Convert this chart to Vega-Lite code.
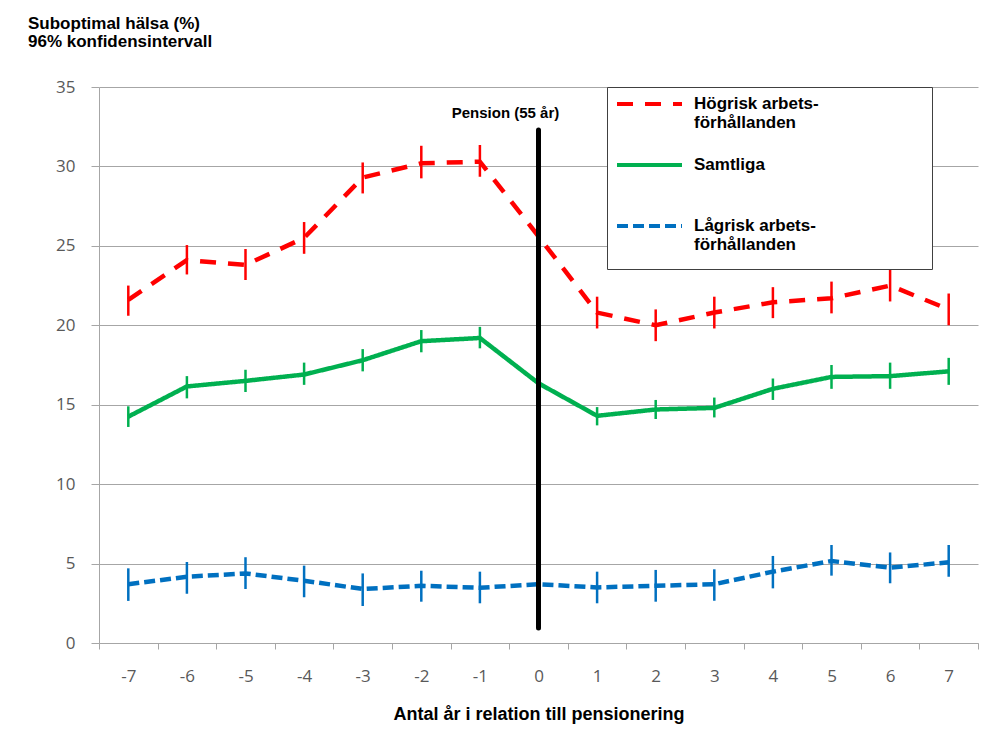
{
  "$schema": "https://vega.github.io/schema/vega-lite/v6.json",
  "width": 879,
  "height": 556,
  "autosize": {"type": "none"},
  "padding": {"left": 99, "top": 87, "right": 26, "bottom": 93},
  "background": "white",
  "config": {"view": {"stroke": null}, "font": "Liberation Sans"},
  "title": {
    "text": ["Suboptimal hälsa (%)", "96% konfidensintervall"],
    "anchor": "start",
    "frame": "group",
    "dx": -71,
    "fontSize": 17,
    "fontWeight": "bold",
    "font": "Liberation Sans",
    "color": "black",
    "lineHeight": 18,
    "offset": 27
  },
  "datasets": {
    "series": [
      {"serie": "Högrisk arbets-förhållanden", "year": -7, "v": 21.6, "lo": 20.6, "hi": 22.5},
      {"serie": "Högrisk arbets-förhållanden", "year": -6, "v": 24.1, "lo": 23.2, "hi": 25.05},
      {"serie": "Högrisk arbets-förhållanden", "year": -5, "v": 23.8, "lo": 22.85, "hi": 24.8},
      {"serie": "Högrisk arbets-förhållanden", "year": -4, "v": 25.5, "lo": 24.5, "hi": 26.5},
      {"serie": "Högrisk arbets-förhållanden", "year": -3, "v": 29.3, "lo": 28.3, "hi": 30.25},
      {"serie": "Högrisk arbets-förhållanden", "year": -2, "v": 30.2, "lo": 29.25, "hi": 31.3},
      {"serie": "Högrisk arbets-förhållanden", "year": -1, "v": 30.3, "lo": 29.35, "hi": 31.35},
      {"serie": "Högrisk arbets-förhållanden", "year": 0, "v": 25.6, "lo": null, "hi": null},
      {"serie": "Högrisk arbets-förhållanden", "year": 1, "v": 20.8, "lo": 19.8, "hi": 21.8},
      {"serie": "Högrisk arbets-förhållanden", "year": 2, "v": 20.0, "lo": 19.0, "hi": 21.0},
      {"serie": "Högrisk arbets-förhållanden", "year": 3, "v": 20.8, "lo": 19.8, "hi": 21.8},
      {"serie": "Högrisk arbets-förhållanden", "year": 4, "v": 21.45, "lo": 20.45, "hi": 22.4},
      {"serie": "Högrisk arbets-förhållanden", "year": 5, "v": 21.7, "lo": 20.75, "hi": 22.75},
      {"serie": "Högrisk arbets-förhållanden", "year": 6, "v": 22.5, "lo": 21.5, "hi": 23.6},
      {"serie": "Högrisk arbets-förhållanden", "year": 7, "v": 21.0, "lo": 20.0, "hi": 22.0},
      {"serie": "Samtliga", "year": -7, "v": 14.25, "lo": 13.6, "hi": 14.9},
      {"serie": "Samtliga", "year": -6, "v": 16.15, "lo": 15.4, "hi": 16.8},
      {"serie": "Samtliga", "year": -5, "v": 16.5, "lo": 15.8, "hi": 17.2},
      {"serie": "Samtliga", "year": -4, "v": 16.9, "lo": 16.25, "hi": 17.65},
      {"serie": "Samtliga", "year": -3, "v": 17.8, "lo": 17.1, "hi": 18.5},
      {"serie": "Samtliga", "year": -2, "v": 19.0, "lo": 18.3, "hi": 19.7},
      {"serie": "Samtliga", "year": -1, "v": 19.2, "lo": 18.55, "hi": 19.9},
      {"serie": "Samtliga", "year": 0, "v": 16.35, "lo": null, "hi": null},
      {"serie": "Samtliga", "year": 1, "v": 14.3, "lo": 13.7, "hi": 14.85},
      {"serie": "Samtliga", "year": 2, "v": 14.7, "lo": 14.1, "hi": 15.3},
      {"serie": "Samtliga", "year": 3, "v": 14.8, "lo": 14.2, "hi": 15.45},
      {"serie": "Samtliga", "year": 4, "v": 16.0, "lo": 15.3, "hi": 16.65},
      {"serie": "Samtliga", "year": 5, "v": 16.75, "lo": 16.0, "hi": 17.5},
      {"serie": "Samtliga", "year": 6, "v": 16.8, "lo": 16.0, "hi": 17.65},
      {"serie": "Samtliga", "year": 7, "v": 17.1, "lo": 16.25, "hi": 17.95},
      {"serie": "Lågrisk arbets-förhållanden", "year": -7, "v": 3.7, "lo": 2.65, "hi": 4.7},
      {"serie": "Lågrisk arbets-förhållanden", "year": -6, "v": 4.17, "lo": 3.1, "hi": 5.1},
      {"serie": "Lågrisk arbets-förhållanden", "year": -5, "v": 4.38, "lo": 3.4, "hi": 5.4},
      {"serie": "Lågrisk arbets-förhållanden", "year": -4, "v": 3.92, "lo": 2.88, "hi": 4.87},
      {"serie": "Lågrisk arbets-förhållanden", "year": -3, "v": 3.4, "lo": 2.33, "hi": 4.38},
      {"serie": "Lågrisk arbets-förhållanden", "year": -2, "v": 3.6, "lo": 2.6, "hi": 4.55},
      {"serie": "Lågrisk arbets-förhållanden", "year": -1, "v": 3.48, "lo": 2.5, "hi": 4.49},
      {"serie": "Lågrisk arbets-förhållanden", "year": 0, "v": 3.7, "lo": null, "hi": null},
      {"serie": "Lågrisk arbets-förhållanden", "year": 1, "v": 3.5, "lo": 2.5, "hi": 4.49},
      {"serie": "Lågrisk arbets-förhållanden", "year": 2, "v": 3.6, "lo": 2.6, "hi": 4.6},
      {"serie": "Lågrisk arbets-förhållanden", "year": 3, "v": 3.7, "lo": 2.66, "hi": 4.64},
      {"serie": "Lågrisk arbets-förhållanden", "year": 4, "v": 4.49, "lo": 3.44, "hi": 5.48},
      {"serie": "Lågrisk arbets-förhållanden", "year": 5, "v": 5.16, "lo": 4.24, "hi": 6.17},
      {"serie": "Lågrisk arbets-förhållanden", "year": 6, "v": 4.74, "lo": 3.76, "hi": 5.7},
      {"serie": "Lågrisk arbets-förhållanden", "year": 7, "v": 5.08, "lo": 4.17, "hi": 6.17}
    ],
    "pension": [
      {"year": 0, "label": "Pension (55 år)"}
    ]
  },
  "encoding": {
    "x": {
      "field": "year",
      "type": "ordinal",
      "bandPosition": 0.5,
      "scale": {"type": "band", "domain": [-7, -6, -5, -4, -3, -2, -1, 0, 1, 2, 3, 4, 5, 6, 7], "paddingInner": 0, "paddingOuter": 0},
      "axis": {
        "title": "Antal år i relation till pensionering",
        "titleFont": "Liberation Sans",
        "titleFontSize": 18,
        "titleFontWeight": "bold",
        "titleColor": "black",
        "titlePadding": 21,
        "labelAngle": 0,
        "labelFont": "Open Sans",
        "labelFontSize": 17,
        "labelColor": "#595959",
        "labelPadding": 19,
        "tickBand": "extent",
        "tickSize": 6,
        "tickColor": "#a6a6a6",
        "domainColor": "#a6a6a6",
        "grid": false
      }
    }
  },
  "layer": [
    {
      "data": {"name": "series"},
      "mark": {"type": "line", "strokeWidth": 4.5},
      "encoding": {
        "y": {
          "field": "v",
          "type": "quantitative",
          "scale": {"domain": [0, 35], "nice": false},
          "axis": {
            "title": null,
            "values": [0, 5, 10, 15, 20, 25, 30, 35],
            "grid": true,
            "gridColor": "#a6a6a6",
            "domainColor": "#a6a6a6",
            "tickColor": "#a6a6a6",
            "tickSize": 8,
            "labelPadding": 16,
            "labelFont": "Open Sans",
            "labelFontSize": 17,
            "labelColor": "#595959"
          }
        },
        "color": {
          "field": "serie",
          "type": "nominal",
          "scale": {
            "domain": ["Högrisk arbets-förhållanden", "Samtliga", "Lågrisk arbets-förhållanden"],
            "range": ["#ff0000", "#00b050", "#0070c0"]
          },
          "legend": {
            "title": " ",
            "titleOrient": "right",
            "titlePadding": 108,
            "titleFontSize": 17,
            "orient": "none",
            "legendX": 508,
            "legendY": 0,
            "padding": 5,
            "strokeColor": "#404040",
            "fillColor": "white",
            "symbolType": "stroke",
            "symbolSize": 4225,
            "symbolStrokeWidth": 4,
            "symbolOffset": 3,
            "labelOffset": 10,
            "labelFont": "Liberation Sans",
            "labelFontSize": 17,
            "labelFontWeight": "bold",
            "labelColor": "black",
            "labelLineHeight": 18,
            "labelLimit": 400,
            "clipHeight": 50,
            "rowPadding": 11,
            "labelExpr": "indexof(datum.label, '-') > 0 ? [slice(datum.label, 0, indexof(datum.label, '-') + 1), slice(datum.label, indexof(datum.label, '-') + 1)] : [datum.label, '']",
            "encode": {
              "symbols": {"update": {"y": {"value": 12}}},
              "labels": {"update": {"y": {"value": 12}}}
            }
          }
        },
        "strokeDash": {
          "field": "serie",
          "type": "nominal",
          "scale": {
            "domain": ["Högrisk arbets-förhållanden", "Samtliga", "Lågrisk arbets-förhållanden"],
            "range": [[16, 12], [1, 0], [11, 5]]
          },
          "legend": {
            "title": " ",
            "titleOrient": "right",
            "titlePadding": 108,
            "titleFontSize": 17,
            "orient": "none",
            "legendX": 508,
            "legendY": 0,
            "padding": 5,
            "strokeColor": "#404040",
            "fillColor": "white",
            "symbolType": "stroke",
            "symbolSize": 4225,
            "symbolStrokeWidth": 4,
            "symbolOffset": 3,
            "labelOffset": 10,
            "labelFont": "Liberation Sans",
            "labelFontSize": 17,
            "labelFontWeight": "bold",
            "labelColor": "black",
            "labelLineHeight": 18,
            "labelLimit": 400,
            "clipHeight": 50,
            "rowPadding": 11,
            "labelExpr": "indexof(datum.label, '-') > 0 ? [slice(datum.label, 0, indexof(datum.label, '-') + 1), slice(datum.label, indexof(datum.label, '-') + 1)] : [datum.label, '']",
            "encode": {
              "symbols": {"update": {"y": {"value": 12}}},
              "labels": {"update": {"y": {"value": 12}}}
            }
          }
        }
      }
    },
    {
      "data": {"name": "series"},
      "mark": {"type": "rule", "strokeWidth": 2.5},
      "encoding": {
        "y": {"field": "lo", "type": "quantitative"},
        "y2": {"field": "hi"},
        "color": {"field": "serie", "type": "nominal"}
      }
    },
    {
      "data": {"name": "pension"},
      "mark": {"type": "rule", "strokeWidth": 5, "color": "black", "strokeCap": "round"},
      "encoding": {
        "y": {"datum": 32.3},
        "y2": {"datum": 0.95}
      }
    },
    {
      "data": {"name": "pension"},
      "mark": {"type": "text", "fontWeight": "bold", "fontSize": 15, "font": "Liberation Sans", "color": "black", "dx": -33, "dy": 31, "baseline": "alphabetic", "align": "center"},
      "encoding": {
        "y": {"datum": 35},
        "text": {"field": "label"}
      }
    }
  ]
}
